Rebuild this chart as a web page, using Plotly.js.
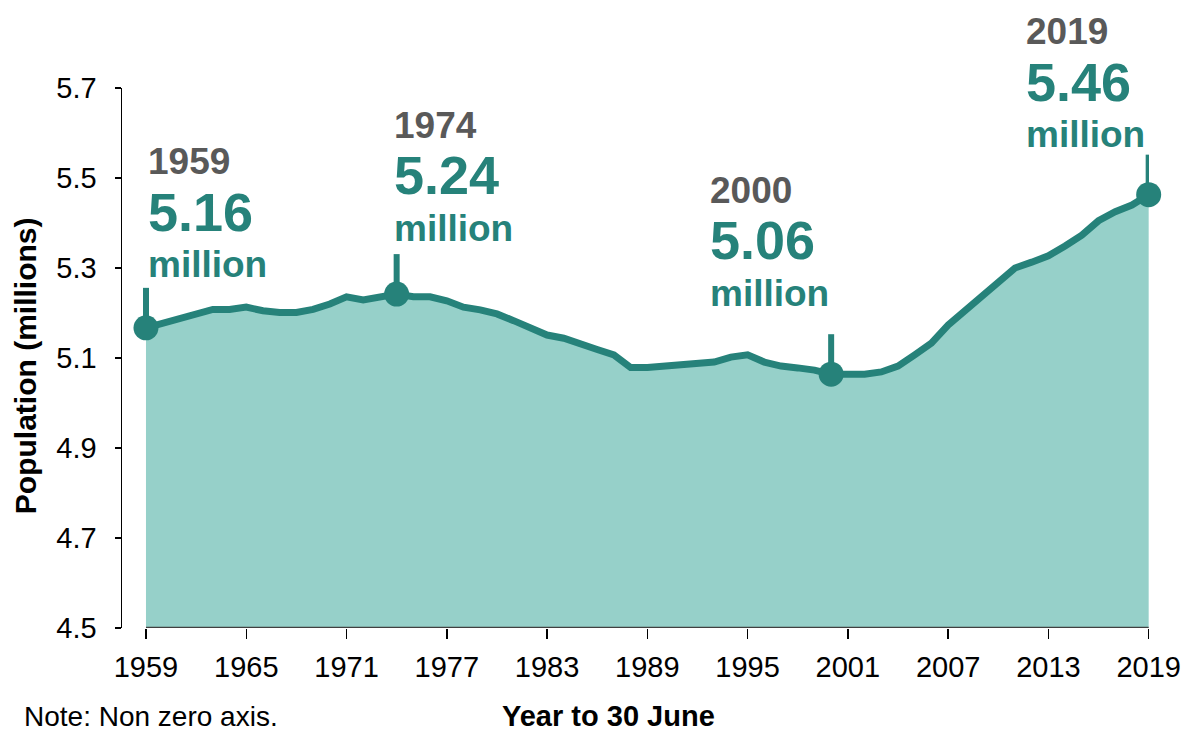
<!DOCTYPE html>
<html>
<head>
<meta charset="utf-8">
<script src="https://cdn.plot.ly/plotly-3.0.1.min.js"></script>
<style>
  html, body { margin: 0; padding: 0; background: #ffffff; }
  #chart { width: 1198px; height: 731px; }
</style>
</head>
<body>
<div id="chart"></div>
<script>
// ---- data ----
const years = [
  1959, 1960, 1961, 1962, 1963, 1964, 1965, 1966, 1967, 1968,
  1969, 1970, 1971, 1972, 1973, 1974, 1975, 1976, 1977, 1978,
  1979, 1980, 1981, 1982, 1983, 1984, 1985, 1986, 1987, 1988,
  1989, 1990, 1991, 1992, 1993, 1994, 1995, 1996, 1997, 1998,
  1999, 2000, 2001, 2002, 2003, 2004, 2005, 2006, 2007, 2008,
  2009, 2010, 2011, 2012, 2013, 2014, 2015, 2016, 2017, 2018, 2019
];
const population = [
  5.167, 5.177, 5.187, 5.201, 5.208, 5.208, 5.213, 5.205, 5.201, 5.201,
  5.208, 5.220, 5.236, 5.229, 5.234, 5.242, 5.236, 5.236, 5.227, 5.213,
  5.207, 5.198, 5.183, 5.166, 5.151, 5.144, 5.130, 5.119, 5.107, 5.079,
  5.079, 5.082, 5.082, 5.087, 5.091, 5.102, 5.107, 5.091, 5.082, 5.078,
  5.073, 5.064, 5.064, 5.064, 5.069, 5.082, 5.107, 5.133, 5.173, 5.205,
  5.238, 5.267, 5.300, 5.313, 5.327, 5.349, 5.373, 5.405, 5.425, 5.440, 5.463
];
const highlightYears = [1959, 1974, 2000, 2019];
const highlightLabels = ["5.16", "5.24", "5.06", "5.46"];
const xTickVals = [1959, 1965, 1971, 1977, 1983, 1989, 1995, 2001, 2007, 2013, 2019];
const yTickVals = [4.5, 4.7, 4.9, 5.1, 5.3, 5.5, 5.7];
const yTickText = ["4.5", "4.7", "4.9", "5.1", "5.3", "5.5", "5.7"];

// ---- styling / placement (not data) ----
const TEAL = "#26827a";
const FILL = "#96d0c9";
const GREY = "#595959";
const FONT = "Liberation Sans, Arial, sans-serif";
// label block offsets in pixels relative to each highlighted point
const labelDx = [0, -5, -123, -125];
const labelDy = [166, 169, 184, 163];

const highlightValues = highlightYears.map(y => population[years.indexOf(y)]);

const traces = [
  {
    x: years, y: population, type: "scatter", mode: "lines",
    fill: "tozeroy", fillcolor: FILL,
    line: { color: TEAL, width: 7 },
    hoverinfo: "skip"
  },
  {
    x: highlightYears, y: highlightValues, type: "scatter", mode: "markers",
    marker: { color: TEAL, size: 25 },
    cliponaxis: false,
    hoverinfo: "skip"
  }
];

const shapes = highlightYears.map((yr, i) => ({
  type: "line", xref: "x", yref: "y",
  ysizemode: "pixel", yanchor: highlightValues[i],
  x0: yr, x1: yr, y0: 0, y1: 40,
  line: { color: TEAL, width: 6 },
  layer: "below"
}));
// x axis line (starts at first year)
shapes.push({
  type: "line", xref: "x", yref: "y",
  x0: years[0], x1: years[years.length - 1], y0: 4.5, y1: 4.5,
  line: { color: "#404040", width: 2.5 }
});

const annotations = [];
highlightYears.forEach((yr, i) => {
  const base = { x: yr, y: highlightValues[i], xref: "x", yref: "y",
                 xanchor: "left", yanchor: "middle", showarrow: false,
                 xshift: labelDx[i] };
  annotations.push(Object.assign({}, base, {
    text: "<b>" + yr + "</b>", yshift: labelDy[i],
    font: { family: FONT, size: 37, color: GREY }
  }));
  annotations.push(Object.assign({}, base, {
    text: "<b>" + highlightLabels[i] + "</b>", yshift: labelDy[i] - 50,
    font: { family: FONT, size: 54, color: TEAL }
  }));
  annotations.push(Object.assign({}, base, {
    text: "<b>million</b>", yshift: labelDy[i] - 103,
    font: { family: FONT, size: 37, color: TEAL }
  }));
});
annotations.push({
  text: "<b>Population (millions)</b>", textangle: -90,
  xref: "paper", yref: "paper", x: -0.0944, y: 0.485,
  xanchor: "center", yanchor: "middle", showarrow: false,
  font: { family: FONT, size: 30, color: "#000000" }
});
annotations.push({
  text: "<b>Year to 30 June</b>",
  xref: "paper", yref: "paper", x: 0.474, y: -0.163,
  xanchor: "center", yanchor: "middle", showarrow: false,
  font: { family: FONT, size: 29, color: "#000000" }
});
annotations.push({
  text: "Note: Non zero axis.",
  xref: "paper", yref: "paper", x: -0.0974, y: -0.163,
  xanchor: "left", yanchor: "middle", showarrow: false,
  font: { family: FONT, size: 28, color: "#000000" }
});

const layout = {
  width: 1198, height: 731,
  margin: { l: 122, r: 49, t: 88, b: 103, pad: 0 },
  paper_bgcolor: "#ffffff", plot_bgcolor: "#ffffff",
  showlegend: false,
  xaxis: {
    range: [1957.565, 2019.02],
    tickvals: xTickVals,
    ticks: "outside", ticklen: 10, tickwidth: 1.5, tickcolor: "#000000",
    ticklabelstandoff: 3,
    showline: false, showgrid: false, zeroline: false,
    tickfont: { family: FONT, size: 29, color: "#000000" },
    fixedrange: true
  },
  yaxis: {
    range: [4.5, 5.7],
    tickvals: yTickVals, ticktext: yTickText,
    ticks: "outside", ticklen: 6, tickwidth: 1.5, tickcolor: "#000000",
    ticklabelstandoff: 12,
    showline: true, linecolor: "#000000", linewidth: 1.5,
    showgrid: false, zeroline: false,
    tickfont: { family: FONT, size: 29, color: "#000000" },
    fixedrange: true
  },
  shapes: shapes,
  annotations: annotations
};

Plotly.newPlot("chart", traces, layout, { displayModeBar: false, staticPlot: true });
</script>
</body>
</html>
